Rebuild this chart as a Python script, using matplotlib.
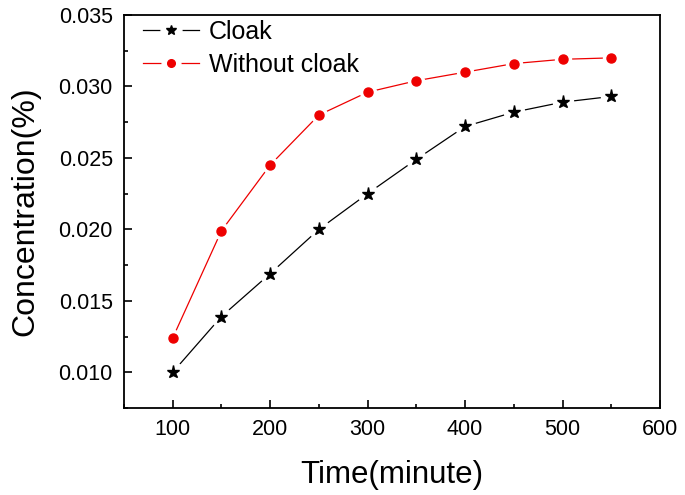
import matplotlib
matplotlib.use("Agg")
import matplotlib.pyplot as plt
from matplotlib.lines import Line2D
from matplotlib.legend_handler import HandlerTuple
from matplotlib.ticker import MultipleLocator, FormatStrFormatter

plt.rcParams['font.family'] = ['Liberation Sans', 'DejaVu Sans']

time = [100, 150, 200, 250, 300, 350, 400, 450, 500, 550]
cloak = [0.0100, 0.0139, 0.0169, 0.0200, 0.0225, 0.0249, 0.0272, 0.0282, 0.0289, 0.0293]
without = [0.0124, 0.0199, 0.0245, 0.0280, 0.0296, 0.0304, 0.0310, 0.0316, 0.0319, 0.0320]
labels = ["Cloak", "Without cloak"]

fig = plt.figure(figsize=(6.85, 4.95), dpi=100)
ax = fig.add_axes([0.181, 0.1758, 0.7825, 0.7939])

series = [(cloak, 'black', '*', 9.5, 7), (without, '#ee0000', 'o', 6.5, 5.5)]
handles = []
for (vals, col, mk, ms, lms) in series:
    ax.plot(time, vals, color=col, lw=0.9, zorder=2)
    ax.plot(time, vals, ls='none', marker='o', ms=ms + 5, color='white',
            mec='white', zorder=3)
    ax.plot(time, vals, ls='none', marker=mk, ms=ms, color=col, mec=col, zorder=4)
    h_line = Line2D([], [], color=col, lw=0.9)
    h_gap = Line2D([], [], ls='none', marker='o', ms=lms + 8, color='white', mec='white')
    h_mk = Line2D([], [], ls='none', marker=mk, ms=lms, color=col, mec=col)
    handles.append((h_line, h_gap, h_mk))

ax.set_xlim(50, 600)
ax.set_ylim(0.0075, 0.035)
ax.xaxis.set_major_locator(MultipleLocator(100))
ax.xaxis.set_minor_locator(MultipleLocator(50))
ax.yaxis.set_major_locator(MultipleLocator(0.005))
ax.yaxis.set_minor_locator(MultipleLocator(0.0025))
ax.yaxis.set_major_formatter(FormatStrFormatter('%.3f'))
ax.tick_params(which='both', direction='in', top=False, right=False, width=1.2)
ax.tick_params(which='major', length=6, labelsize=15.5, pad=8)
ax.tick_params(which='minor', length=3)
ax.set_yticks([0.010, 0.015, 0.020, 0.025, 0.030, 0.035])
for s in ax.spines.values():
    s.set_linewidth(1.3)

ax.set_xlabel("Time(minute)", fontsize=22.5, labelpad=14)
ax.set_ylabel("Concentration(%)", fontsize=23, labelpad=13)

leg = ax.legend(handles, labels, handler_map={tuple: HandlerTuple(ndivide=1)},
                loc='upper left', frameon=False, fontsize=18, handlelength=2.25,
                handletextpad=0.4, labelspacing=0.35, borderaxespad=0.0,
                bbox_to_anchor=(0.016, 1.013))

fig.savefig("out.png", dpi=100)
